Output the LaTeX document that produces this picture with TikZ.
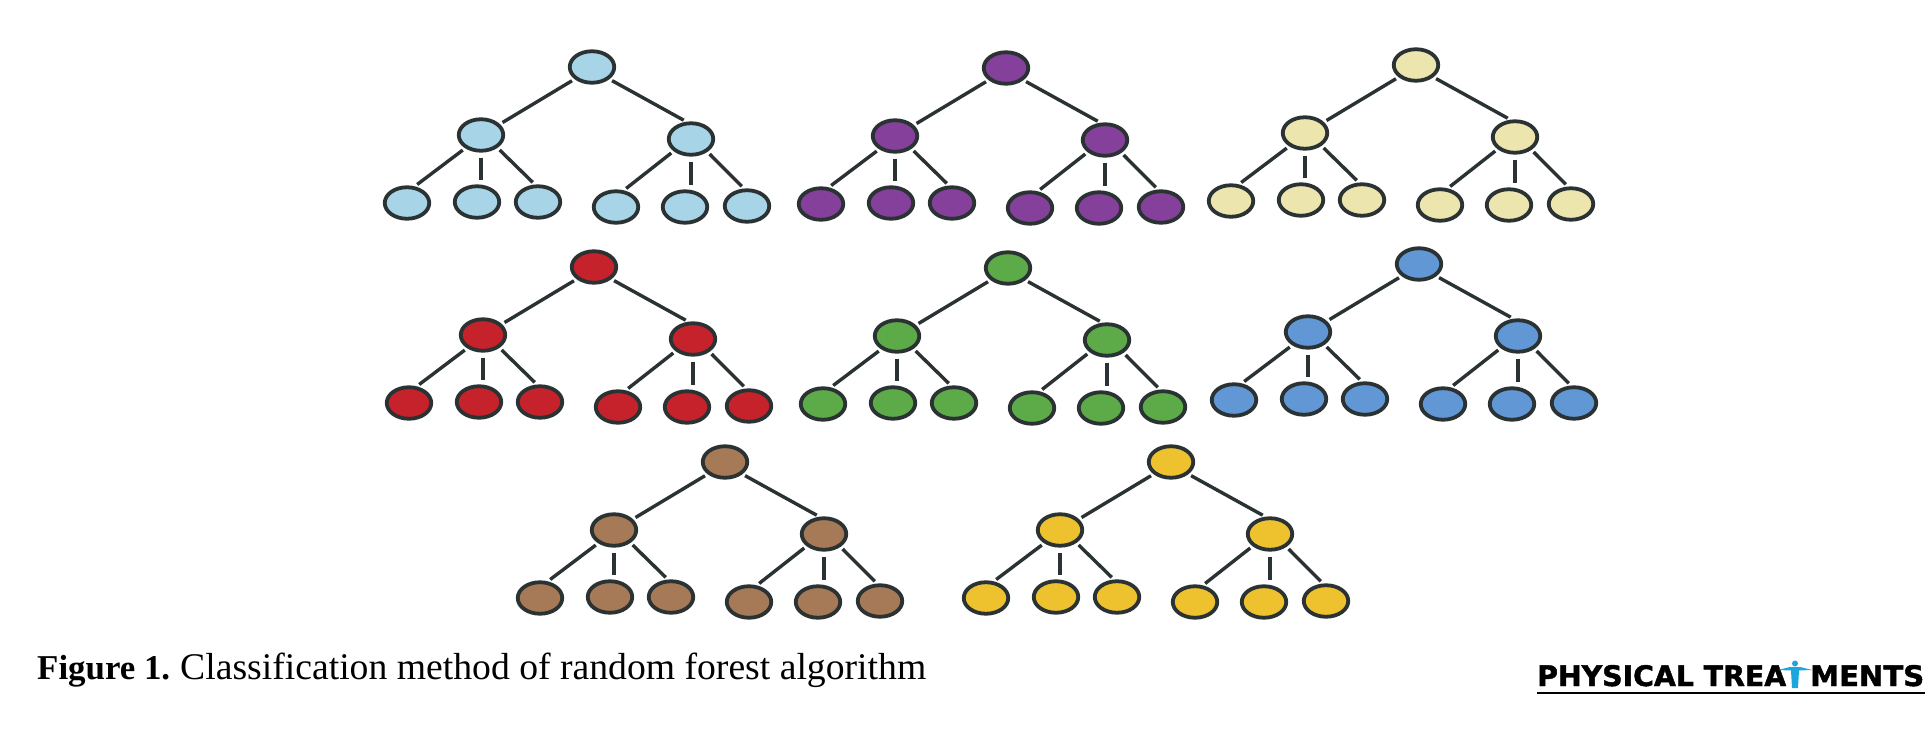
\documentclass[tikz,border=0pt]{standalone}
\usepackage{graphicx}
\usepackage{fontspec}
\setmainfont{Liberation Serif}
\newfontfamily\logofont[FakeBold=1.6]{DejaVu Sans Bold}
\usetikzlibrary{shapes.geometric}
\definecolor{cLight}{HTML}{A8D4E8}
\definecolor{cPurple}{HTML}{84409A}
\definecolor{cCream}{HTML}{ECE5AE}
\definecolor{cRed}{HTML}{C5222B}
\definecolor{cGreen}{HTML}{5CAA48}
\definecolor{cBlue}{HTML}{6097D4}
\definecolor{cBrown}{HTML}{A67A56}
\definecolor{cYellow}{HTML}{EDC22E}
\definecolor{cEdge}{HTML}{2B3233}
\definecolor{cFig}{HTML}{1BA6DC}
\tikzset{
  treenode/.style={ellipse,draw=cEdge,line width=3.8pt,inner sep=0pt,minimum width=44.5pt,minimum height=31.5pt},
  treelink/.style={draw=cEdge,line width=3.4pt,shorten <=3pt,shorten >=3pt},
  stemlink/.style={draw=cEdge,line width=4pt,shorten <=5pt,shorten >=4pt},
}
\newcommand{\foresttree}[4]{%
  \begin{scope}[shift={(#2,#3)},every node/.append style={treenode,fill=#4}]
    \node (#1r) at (0,0) {};
    \node (#1a) at (-111,68) {};
    \node (#1b) at (99,72) {};
    \node (#1c) at (-185,136) {};
    \node (#1d) at (-115,135) {};
    \node (#1e) at (-54,135) {};
    \node (#1f) at (24,140) {};
    \node (#1g) at (93,140) {};
    \node (#1h) at (155,139) {};
  \end{scope}
  \draw[treelink] (#1r.-145) -- (#1a.30);
  \draw[treelink] (#1r.-35) -- (#1b.105);
  \draw[treelink] (#1a.-140) -- (#1c.65);
  \draw[stemlink] (#1a.south) -- (#1a.south |- #1d.north);
  \draw[treelink] (#1a.-38) -- (#1e.100);
  \draw[treelink] (#1b.-145) -- (#1f.65);
  \draw[stemlink] (#1b.south) -- (#1b.south |- #1g.north);
  \draw[treelink] (#1b.-38) -- (#1h.100);
}
\begin{document}
\begin{tikzpicture}[x=1pt,y=-1pt]
  \useasboundingbox (0,0) rectangle (1928,738);
  \fill[white] (0,0) rectangle (1928,738);
  \foresttree{A}{592}{67}{cLight}
  \foresttree{B}{1006}{68}{cPurple}
  \foresttree{C}{1416}{65}{cCream}
  \foresttree{D}{594}{267}{cRed}
  \foresttree{E}{1008}{268}{cGreen}
  \foresttree{F}{1419}{264}{cBlue}
  \foresttree{G}{725}{462}{cBrown}
  \foresttree{H}{1171}{462}{cYellow}
  \node[anchor=base west,inner sep=0pt] (captionA) at (37,679)
    {\resizebox{133pt}{!}{\fontsize{32}{36}\selectfont\textbf{Figure 1.}}};
  \node[anchor=base west,inner sep=0pt] (captionB) at (180,679)
    {\resizebox{746pt}{!}{\fontsize{32}{36}\selectfont Classification method of random forest algorithm}};
  \node[anchor=base west,inner sep=0pt] (logoL) at (1537,686)
    {\resizebox{249pt}{21pt}{\logofont PHYSICAL TREA}};
  \node[anchor=base west,inner sep=0pt] (logoR) at (1810,686)
    {\resizebox{114pt}{21pt}{\logofont MENTS}};
  \draw[black,line width=2.4pt] (1537,693) -- (1925,693);
  \fill[cFig] (1795,663.5) circle (3pt);
  \fill[cFig] (1778,670) -- (1790,667) -- (1800,667) -- (1812,670) -- (1799,670.5) -- (1798,688) -- (1792,688) -- (1791,670.5) -- cycle;
\end{tikzpicture}
\end{document}
